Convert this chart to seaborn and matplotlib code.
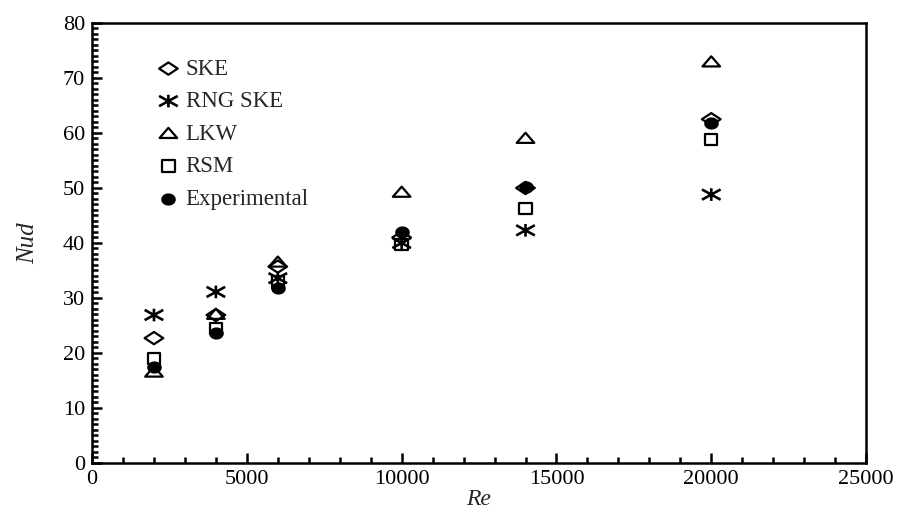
import matplotlib
matplotlib.use("Agg")
import numpy as np
import matplotlib.pyplot as plt
from matplotlib.path import Path
from matplotlib.ticker import MultipleLocator
import seaborn as sns
import pandas as pd

# Reynolds numbers and Nusselt numbers for each turbulence model
re_values = [2000, 4000, 6000, 10000, 14000, 20000]
nu_ske = [22.7, 26.9, 35.7, 41.0, 50.0, 62.5]
nu_rng_ske = [26.9, 31.1, 33.6, 40.0, 42.3, 48.8]
nu_lkw = [16.5, 27.0, 36.5, 49.2, 59.0, 72.9]
nu_rsm = [19.0, 24.4, 32.9, 39.7, 46.3, 58.8]
nu_experimental = [17.4, 23.7, 31.8, 42.0, 50.2, 61.8]

series_names = ["SKE", "RNG SKE", "LKW", "RSM", "Experimental"]
series_values = [nu_ske, nu_rng_ske, nu_lkw, nu_rsm, nu_experimental]

x_ticks = [0, 5000, 10000, 15000, 20000, 25000]
y_ticks = [0, 10, 20, 30, 40, 50, 60, 70, 80]

frames = []
for name, vals in zip(series_names, series_values):
    frames.append(pd.DataFrame({"Re": re_values, "Nu": vals, "model": name}))
df = pd.concat(frames, ignore_index=True)

# Slightly wide marker shapes
diamond = Path([(-1.0, 0.0), (0.0, 0.66), (1.0, 0.0), (0.0, -0.66), (-1.0, 0.0)],
               [Path.MOVETO, Path.LINETO, Path.LINETO, Path.LINETO, Path.CLOSEPOLY])
triangle = Path([(-1.0, -0.5), (1.0, -0.5), (0.0, 0.65), (-1.0, -0.5)],
                [Path.MOVETO, Path.LINETO, Path.LINETO, Path.CLOSEPOLY])
rect = Path([(-1.0, -0.9), (1.0, -0.9), (1.0, 0.9), (-1.0, 0.9), (-1.0, -0.9)],
            [Path.MOVETO, Path.LINETO, Path.LINETO, Path.LINETO, Path.CLOSEPOLY])
theta = np.linspace(0, 2 * np.pi, 41)
ellipse = Path(np.column_stack([np.cos(theta), 0.82 * np.sin(theta)]), closed=True)
asterisk = Path([(0.0, -0.68), (0.0, 0.68),
                 (-1.0, -0.55), (1.0, 0.55),
                 (-1.0, 0.55), (1.0, -0.55)],
                [Path.MOVETO, Path.LINETO, Path.MOVETO, Path.LINETO,
                 Path.MOVETO, Path.LINETO])

sns.set_theme(style="ticks")
plt.rcParams["font.family"] = ["Liberation Serif", "DejaVu Serif"]

fig = plt.figure(figsize=(9.05, 5.11), dpi=100)
ax = fig.add_axes([0.1017, 0.094, 0.8553, 0.861])

styles = {
    "SKE": dict(marker=diamond, s=180, facecolors="none", edgecolor="black", linewidths=1.6),
    "RNG SKE": dict(marker=asterisk, s=180, facecolors="none", edgecolor="black", linewidths=1.9),
    "LKW": dict(marker=triangle, s=160, facecolors="none", edgecolor="black", linewidths=1.6),
    "RSM": dict(marker=rect, s=80, facecolors="none", edgecolor="black", linewidths=1.6),
    "Experimental": dict(marker=ellipse, s=90, facecolors="black", edgecolor="black", linewidths=1.0),
}

for name in series_names:
    sub = df[df["model"] == name]
    sns.scatterplot(data=sub, x="Re", y="Nu", ax=ax, color="black",
                    label=name, zorder=3, **styles[name])

ax.set_xlim(0, 25000)
ax.set_ylim(0, 80)
ax.set_xticks(x_ticks)
ax.set_yticks(y_ticks)
ax.xaxis.set_minor_locator(MultipleLocator(1000))
ax.yaxis.set_minor_locator(MultipleLocator(1))
ax.tick_params(which="both", direction="in", top=False, right=False,
               labelsize=16, width=1.8, color="black", labelcolor="black")
ax.tick_params(which="major", length=7, pad=5)
ax.tick_params(which="minor", length=4.5)
for sp in ax.spines.values():
    sp.set_linewidth(1.8)
    sp.set_color("black")
    sp.set_visible(True)

ax.set_xlabel("Re", fontsize=17, style="italic", labelpad=0)
ax.set_ylabel("Nud", fontsize=18, style="italic", labelpad=17)

leg = ax.legend(loc="upper left", bbox_to_anchor=(0.072, 0.94), frameon=False,
                fontsize=16.5, handletextpad=0.25, labelspacing=0.5,
                borderaxespad=0, handlelength=1.0)

fig.savefig("out.png", dpi=100, facecolor="white")
